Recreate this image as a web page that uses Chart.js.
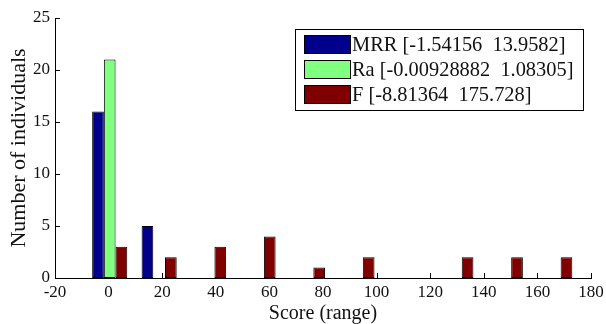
<!DOCTYPE html>
<html><head><meta charset="utf-8">
<script src="https://cdn.jsdelivr.net/npm/chart.js@4.4.0/dist/chart.umd.min.js"></script>
<style>html,body{margin:0;padding:0;background:#fff}#wrap{width:606px;height:324px}</style>
</head><body><div id="wrap"><canvas id="c" width="606" height="324"></canvas></div>
<script>
// Histogram bin centres (Score) and counts per series
const binCenters = [0.41, 18.86, 37.31, 55.76, 74.22, 92.67, 111.12, 129.58, 148.03, 166.48];
const mrrCounts  = [16, 5, 0, 0, 0, 0, 0, 0, 0, 0];
const raCounts   = [21, 0, 0, 0, 0, 0, 0, 0, 0, 0];
const fCounts    = [3, 2, 3, 4, 1, 2, 0, 2, 2, 2];
const seriesLabels = ['MRR [-1.54156  13.9582]', 'Ra [-0.00928882  1.08305]', 'F [-8.81364  175.728]'];
const seriesColors = ['#00008c', '#80ff80', '#800000'];
const xTicks = [-20, 0, 20, 40, 60, 80, 100, 120, 140, 160, 180];
const yTicks = [0, 5, 10, 15, 20, 25];

const FONT = "'Liberation Serif', 'Times New Roman', serif";
Chart.defaults.font.family = FONT;
Chart.defaults.color = '#111';

function pts(counts) {
  return binCenters.map((x, i) => ({ x: x, y: counts[i] === 0 ? null : counts[i] }));
}

const inwardTicks = {
  id: 'inwardTicks',
  beforeDatasetsDraw(chart) {
    const { ctx, chartArea: a, scales: { x, y } } = chart;
    ctx.save();
    ctx.strokeStyle = '#000';
    ctx.lineWidth = 1;
    ctx.beginPath();
    x.ticks.forEach(t => {
      const px = Math.round(x.getPixelForValue(t.value)) + 0.5;
      ctx.moveTo(px, a.bottom); ctx.lineTo(px, a.bottom - 5);
    });
    y.ticks.forEach(t => {
      const py = Math.round(y.getPixelForValue(t.value)) + 0.5;
      ctx.moveTo(a.left, py); ctx.lineTo(a.left + 5, py);
    });
    ctx.stroke();
    ctx.restore();
  }
};

const boxLegend = {
  id: 'boxLegend',
  afterDraw(chart) {
    const { ctx, chartArea: a } = chart;
    const ds = chart.data.datasets;
    ctx.save();
    ctx.font = "20.4px " + FONT;
    const left = 295, right = 583, top = a.top + 11;
    const padL = 9, sw = 47, gap = 1, rowH = 25, swH = 19, padT = 6;
    const w = right - left;
    const h = padT * 2 + rowH * ds.length - (rowH - swH);
    ctx.fillStyle = '#fff';
    ctx.fillRect(left, top, w, h);
    ctx.strokeStyle = '#000';
    ctx.lineWidth = 1;
    ctx.strokeRect(left + 0.5, top + 0.5, w, h);
    ds.forEach((d, i) => {
      const ry = top + padT + i * rowH;
      ctx.fillStyle = d.backgroundColor;
      ctx.fillRect(left + padL, ry, sw, swH);
      ctx.strokeStyle = '#000';
      ctx.strokeRect(left + padL + 0.5, ry + 0.5, sw - 1, swH - 1);
      ctx.fillStyle = '#111';
      ctx.textBaseline = 'middle';
      ctx.textAlign = 'left';
      ctx.fillText(d.label, left + padL + sw + gap, ry + swH / 2 + 1);
    });
    ctx.restore();
  }
};

new Chart(document.getElementById('c'), {
  type: 'bar',
  data: {
    datasets: [
      { label: seriesLabels[0], data: pts(mrrCounts), backgroundColor: seriesColors[0] },
      { label: seriesLabels[1], data: pts(raCounts), backgroundColor: seriesColors[1] },
      { label: seriesLabels[2], data: pts(fCounts), backgroundColor: seriesColors[2] }
    ]
  },
  options: {
    responsive: false,
    animation: false,
    devicePixelRatio: 1,
    layout: { padding: { left: 0, top: 18, right: 15, bottom: 0 } },
    datasets: {
      bar: {
        borderColor: '#000', borderWidth: 1, borderSkipped: false,
        categoryPercentage: 0.71, barPercentage: 1.0, inflateAmount: 0
      }
    },
    plugins: { legend: { display: false }, tooltip: { enabled: false } },
    scales: {
      x: {
        type: 'linear', min: -20, max: 180, offset: false,
        afterBuildTicks: s => { s.ticks = xTicks.map(v => ({ value: v })); },
        afterFit: s => { s.height = 46; s.paddingLeft = 0; s.paddingRight = 0; },
        grid: { display: false, offset: false, drawTicks: false },
        border: { display: true, color: '#000', width: 1 },
        ticks: { font: { size: 17 }, padding: 4, maxRotation: 0, autoSkip: false },
        title: { display: true, text: 'Score (range)', font: { size: 20 }, padding: { top: 0, bottom: -2 } }
      },
      y: {
        min: 0, max: 25,
        afterBuildTicks: s => { s.ticks = yTicks.map(v => ({ value: v })); },
        afterFit: s => { s.width = 55; s.paddingTop = 0; s.paddingBottom = 0; },
        grid: { display: false, drawTicks: false },
        border: { display: true, color: '#000', width: 1 },
        ticks: { font: { size: 17 }, padding: 5 },
        title: { display: true, text: 'Number of individuals', font: { size: 22 }, padding: { top: 6, bottom: 0 } }
      }
    }
  },
  plugins: [inwardTicks, boxLegend]
});
</script>
</body></html>
